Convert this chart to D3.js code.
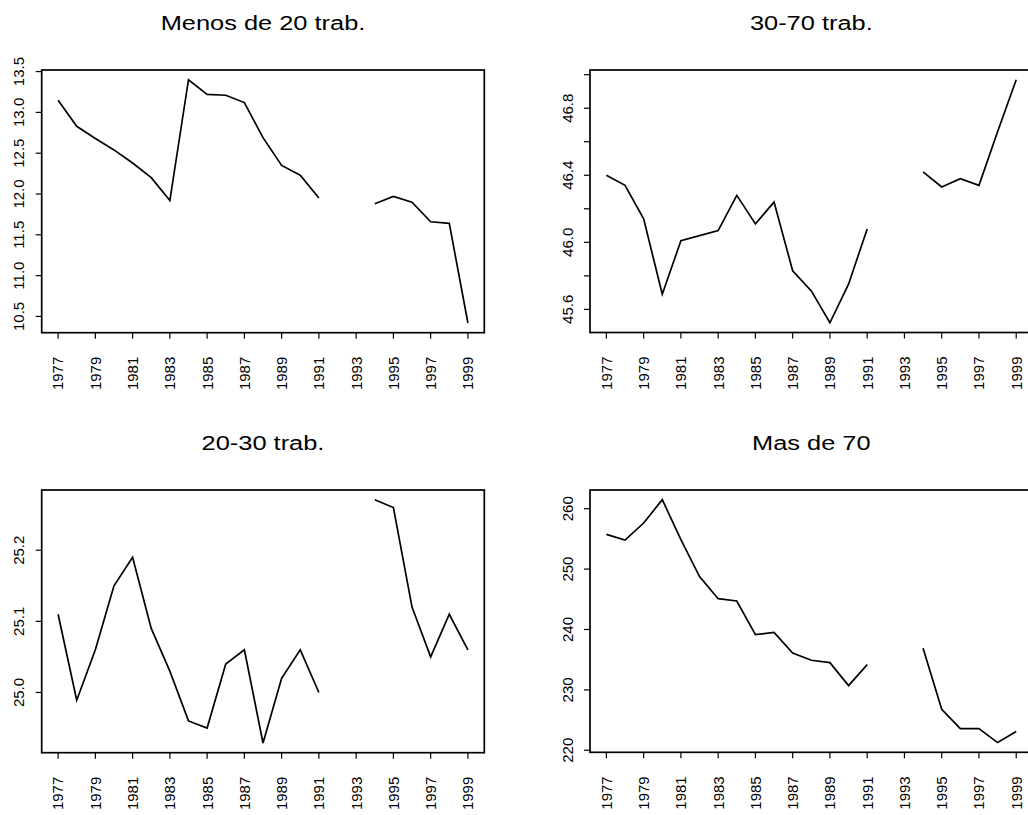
<!DOCTYPE html>
<html>
<head>
<meta charset="utf-8">
<script src="https://cdn.jsdelivr.net/npm/d3@7"></script>
<style>
  html, body { margin: 0; padding: 0; background: #fff; }
  svg { display: block; font-family: "Liberation Sans", Arial, Helvetica, sans-serif; }
</style>
</head>
<body>
<svg id="chart" width="1028" height="815"></svg>
<script>
// Years 1977–1999; 1992 and 1993 are missing in every series
const years = d3.range(1977, 2000);
const xTickYears = [1977, 1979, 1981, 1983, 1985, 1987, 1989, 1991, 1993, 1995, 1997, 1999];

const menos20 = [13.15, 12.83, 12.68, 12.54, 12.38, 12.20, 11.92, 13.40, 13.22, 13.21, 13.12, 12.69,
                 12.35, 12.23, 11.95, null, null, 11.88, 11.97, 11.90, 11.66, 11.64, 10.42];
const de30a70 = [46.40, 46.34, 46.14, 45.69, 46.01, 46.04, 46.07, 46.28, 46.11, 46.24, 45.83, 45.71,
                 45.52, 45.75, 46.08, null, null, 46.42, 46.33, 46.38, 46.34, 46.66, 46.97];
const de20a30 = [25.110, 24.989, 25.060, 25.150, 25.190, 25.090, 25.030, 24.960, 24.950, 25.040, 25.060, 24.929,
                 25.020, 25.060, 25.000, null, null, 25.271, 25.260, 25.120, 25.050, 25.110, 25.060];
const masDe70 = [255.75, 254.81, 257.63, 261.49, 254.9, 248.75, 245.10, 244.72, 239.14, 239.53, 236.11, 234.90,
                 234.51, 230.70, 234.18, null, null, 236.88, 226.79, 223.59, 223.59, 221.27, 223.09];

const titles = ["Menos de 20 trab.", "30-70 trab.", "20-30 trab.", "Mas de 70"];

// y ticks per panel, and which of them carry a label
const yTicks1 = [10.5, 11.0, 11.5, 12.0, 12.5, 13.0, 13.5];
const yLabels1 = [10.5, 11.0, 11.5, 12.0, 12.5, 13.0, 13.5];
const yTicks2 = [45.6, 45.8, 46.0, 46.2, 46.4, 46.6, 46.8, 47.0];
const yLabels2 = [45.6, 46.0, 46.4, 46.8];
const yTicks3 = [25.0, 25.1, 25.2];
const yLabels3 = [25.0, 25.1, 25.2];
const yTicks4 = [220, 230, 240, 250, 260];
const yLabels4 = [220, 230, 240, 250, 260];

const panels = [
  { title: titles[0], values: menos20, ticks: yTicks1, labels: yLabels1, fmt: d3.format(".1f"), box: [41.7, 70, 484.3, 332.7] },
  { title: titles[1], values: de30a70, ticks: yTicks2, labels: yLabels2, fmt: d3.format(".1f"), box: [590, 70, 1032.6, 332.5] },
  { title: titles[2], values: de20a30, ticks: yTicks3, labels: yLabels3, fmt: d3.format(".1f"), box: [41.7, 490, 484.3, 752.7] },
  { title: titles[3], values: masDe70, ticks: yTicks4, labels: yLabels4, fmt: d3.format("d"), box: [590, 490, 1032.6, 752.3] }
];

const svg = d3.select("#chart");

// extend a range by 4% at each end
function padded(lo, hi) {
  const r = hi - lo;
  return [lo - 0.04 * r, hi + 0.04 * r];
}

panels.forEach(p => {
  const [x0, y0, x1, y1] = p.box;
  const g = svg.append("g");

  const x = d3.scaleLinear().domain(padded(years[0], years[years.length - 1])).range([x0, x1]);
  const ext = d3.extent(p.values.filter(v => v != null));
  const y = d3.scaleLinear().domain(padded(ext[0], ext[1])).range([y1, y0]);

  // frame
  g.append("rect")
    .attr("x", x0).attr("y", y0)
    .attr("width", x1 - x0).attr("height", y1 - y0)
    .attr("fill", "none").attr("stroke", "#000").attr("stroke-width", 1.7);

  // series line (gap where values are missing)
  const pts = years.map((yr, i) => ({ yr, v: p.values[i] }));
  const line = d3.line()
    .defined(d => d.v != null)
    .x(d => x(d.yr))
    .y(d => y(d.v));
  g.append("path")
    .datum(pts)
    .attr("d", line)
    .attr("fill", "none")
    .attr("stroke", "#000")
    .attr("stroke-width", 1.7)
    .attr("stroke-linejoin", "miter");

  // x axis: ticks and rotated year labels
  const xa = g.append("g");
  xa.selectAll("line")
    .data(xTickYears)
    .join("line")
    .attr("x1", d => x(d)).attr("x2", d => x(d))
    .attr("y1", y1).attr("y2", y1 + 6)
    .attr("stroke", "#000").attr("stroke-width", 1.2);
  xa.selectAll("text")
    .data(xTickYears)
    .join("text")
    .attr("transform", d => `translate(${x(d)},${y1 + 24}) rotate(-90)`)
    .attr("text-anchor", "end")
    .attr("dy", "0.36em")
    .attr("font-size", 15)
    .text(d => d);

  // y axis: ticks and rotated value labels
  const ya = g.append("g");
  ya.selectAll("line")
    .data(p.ticks)
    .join("line")
    .attr("x1", x0 - 6).attr("x2", x0)
    .attr("y1", d => y(d)).attr("y2", d => y(d))
    .attr("stroke", "#000").attr("stroke-width", 1.2);
  ya.selectAll("text")
    .data(p.labels)
    .join("text")
    .attr("transform", d => `translate(${x0 - 17.5},${y(d)}) rotate(-90)`)
    .attr("text-anchor", "middle")
    .attr("font-size", 15)
    .text(d => p.fmt(d));

  // panel title, drawn slightly wide
  g.append("text")
    .attr("transform", `translate(${(x0 + x1) / 2},${y0 - 40}) scale(1.27,1)`)
    .attr("text-anchor", "middle")
    .attr("font-size", 20)
    .text(p.title);
});
</script>
</body>
</html>
